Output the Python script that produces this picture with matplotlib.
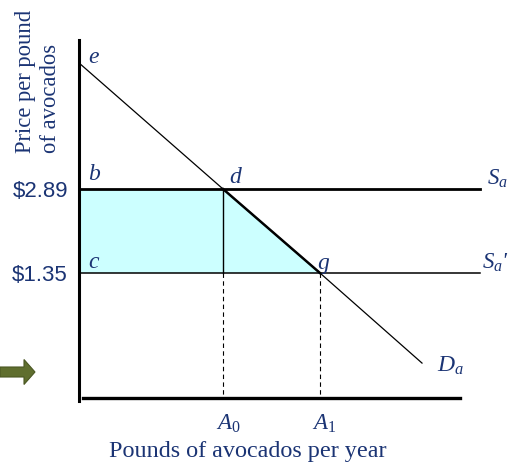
import matplotlib
matplotlib.use("Agg")
import matplotlib.pyplot as plt
from matplotlib.patches import Polygon, FancyArrow

plt.rcParams["mathtext.fontset"] = "custom"
plt.rcParams["mathtext.it"] = "Liberation Serif:italic"
plt.rcParams["mathtext.rm"] = "Liberation Serif"
plt.rcParams["mathtext.default"] = "it"

# ---- data (schematic units) ----
price_labels = ["$2.89", "$1.35"]
prices = [2.89, 1.35]
quantity_labels = [r"$A_\mathit{0}$", r"$A_\mathit{1}$"]
quantities = [14.4, 24.1]
demand_q = [0.0, 14.4, 24.1, 34.3]
demand_p = [5.20, 2.89, 1.35, -0.30]
supply_end_q = 40.1

NAVY = "#1b3474"
FILL = "#ccffff"
W, H = 508, 465

fig = plt.figure(figsize=(W / 100, H / 100), dpi=100)
# axes region in pixels: x 79..505, y 40..398
ax = fig.add_axes([79 / W, (H - 398) / H, (505 - 79) / W, (398 - 40) / H])
ax.set_xlim(0, 42.6)
ax.set_ylim(-0.94, 5.62)
ax.axis("off")


def qx(xpix):
    return (xpix - 79) / 10.0


def py(ypix):
    return 2.89 - (ypix - 189) / 54.55


A0, A1 = quantities
pb, pc = prices
ybot = ax.get_ylim()[0]

# shaded area
ax.add_patch(Polygon([(0, pb), (A0, pb), (A1, pc), (0, pc)], closed=True,
                     facecolor=FILL, edgecolor="none", zorder=1))

# axes lines
ax.plot([0, 0], [py(401), ax.get_ylim()[1]], color="black", lw=2.2, clip_on=False, zorder=5)
ax.plot([qx(83), qx(460)], [ybot, ybot], color="black", lw=2.4, clip_on=False, zorder=5)

# supply lines
ax.plot([0, supply_end_q], [pb, pb], color="black", lw=2.0, zorder=3)
ax.plot([0, supply_end_q], [pc, pc], color="black", lw=1.1, zorder=3)

# demand line
ax.plot(demand_q, demand_p, color="black", lw=0.9, zorder=4)
ax.plot(demand_q[1:3], demand_p[1:3], color="black", lw=1.8, zorder=4)

# verticals
ax.plot([A0, A0], [pb, pc], color="black", lw=1.0, zorder=3)
for qv in quantities:
    ax.plot([qv, qv], [pc, ybot], color="black", lw=0.8, ls=(0, (4, 3)), zorder=3)

serif = "Liberation Serif"
it = dict(family=serif, style="italic", color=NAVY, fontsize=17,
          ha="left", va="baseline", clip_on=False)
for s, xp, yp in [("e", 88, 63), ("b", 88, 180), ("d", 229, 183),
                  ("c", 88, 268), ("g", 318, 269)]:
    ax.text(qx(xp), py(yp), s, **it)

sa = dict(it, fontsize=16.5)
ax.text(qx(487), py(185), r"$S_a$", **sa)
ax.text(qx(482), py(269), r"$S_a$'", **sa)
ax.text(qx(437), py(372), r"$D_a$", **it)

for lab, p in zip(price_labels, prices):
    ax.text(qx(68), p - 0.04, lab, ha="right", va="center",
            family="Liberation Sans", color=NAVY, fontsize=16, clip_on=False)

for lab, qv in zip(quantity_labels, quantities):
    ax.text(qv - 0.75, py(430), lab, ha="left", va="baseline", color=NAVY,
            fontsize=16.5, clip_on=False)

fig.text(248 / W, 1 - 457 / H, "Pounds of avocados per year", ha="center",
         va="baseline", family=serif, color=NAVY, fontsize=17.4)
fig.text(37.5 / W, 1 - 153 / H, "Price per pound\nof avocados", ha="center",
         va="bottom", rotation=90, family=serif,
         color=NAVY, fontsize=16.3, linespacing=1.25, multialignment="left")

# arrow on the left
fig.patches.append(FancyArrow(0 / W, 1 - 372 / H, 35 / W, 0, width=10 / H,
                              head_width=25 / H, head_length=11 / W,
                              length_includes_head=True, transform=fig.transFigure,
                              facecolor="#5f6e2e", edgecolor="#4a5722", lw=0.8))

fig.savefig("out.png", dpi=100)
